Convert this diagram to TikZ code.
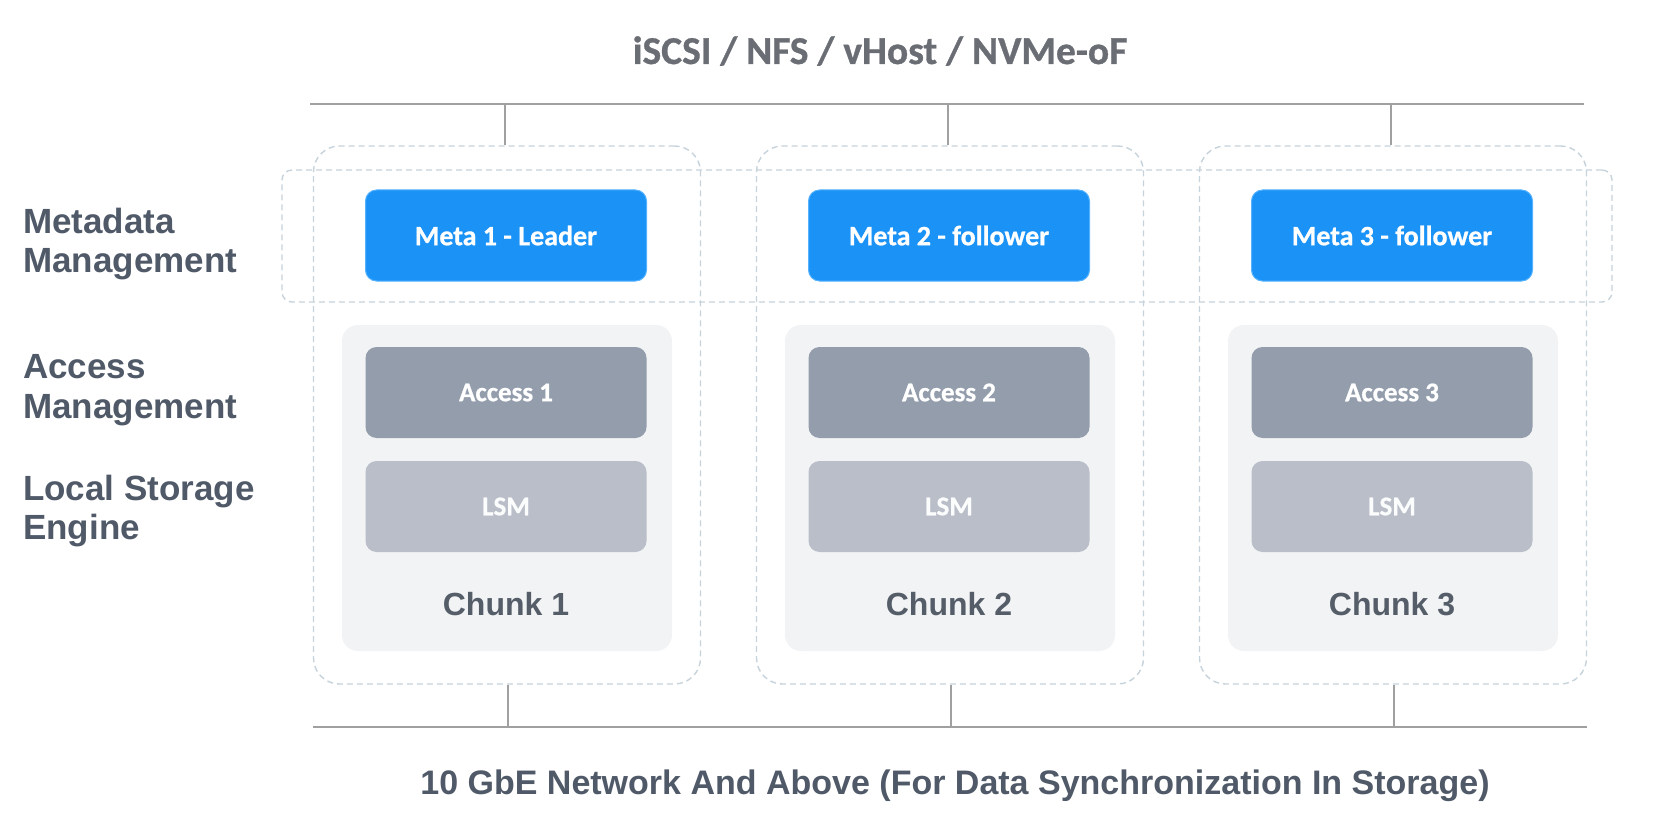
\documentclass[tikz,border=0pt]{standalone}
\usepackage{fontspec}
\setmainfont{Liberation Sans}
\newfontfamily\calfont{Carlito}[BoldFeatures={FakeBold=0.8}]
\definecolor{metablue}{HTML}{1A92F6}
\definecolor{metaedge}{HTML}{55B2FF}
\definecolor{accgray}{HTML}{939DAC}
\definecolor{lsmgray}{HTML}{B9BEC8}
\definecolor{chunkbg}{HTML}{F2F3F5}
\definecolor{dashcol}{HTML}{C6D3DB}
\definecolor{buscol}{HTML}{A0A0A0}
\definecolor{labcol}{HTML}{4F5968}
\definecolor{titlecol}{HTML}{6A6E74}
\definecolor{chunktext}{HTML}{555D68}
\tikzset{
  colbox/.style={draw=dashcol, line width=1.4pt, dash pattern=on 6pt off 4pt, rounded corners=26pt,
    minimum width=387pt, minimum height=538pt, inner sep=0pt},
  band/.style={draw=dashcol, line width=1.4pt, dash pattern=on 6pt off 4pt, rounded corners=10pt,
    minimum width=1330pt, minimum height=132pt, inner sep=0pt},
  metabox/.style={fill=metablue, draw=metaedge, line width=1pt, rounded corners=11pt,
    minimum width=281pt, minimum height=91pt, inner sep=0pt, text=white,
    font=\calfont\bfseries\fontsize{28}{32}\selectfont},
  accbox/.style={fill=accgray, rounded corners=11pt, minimum width=281pt, minimum height=91pt,
    inner sep=0pt, text=white, font=\calfont\bfseries\fontsize{27}{31}\selectfont},
  lsmbox/.style={fill=lsmgray, rounded corners=11pt, minimum width=281pt, minimum height=91pt,
    inner sep=0pt, text=white!95!lsmgray, font=\calfont\bfseries\fontsize{27}{31}\selectfont},
  chunkbox/.style={fill=chunkbg, rounded corners=16pt, minimum width=330pt, minimum height=326pt, inner sep=0pt},
  chunklab/.style={text=chunktext, inner sep=0pt, anchor=base, font=\bfseries\fontsize{32}{36}\selectfont},
  sidelab/.style={text=labcol, inner sep=0pt, anchor=west, align=left, font=\bfseries\fontsize{35}{39.5}\selectfont},
  busline/.style={draw=buscol, line width=1.8pt},
}
\begin{document}
\begin{tikzpicture}[x=1pt, y=-1pt]
\useasboundingbox (0,0) rectangle (1671,821);

% title and bottom caption
\node[text=titlecol, inner sep=0pt, anchor=base, font=\calfont\bfseries\fontsize{39.5}{43}\selectfont] (title) at (880,64) {iSCSI / NFS / vHost / NVMe-oF};
\node[text=labcol, inner sep=0pt, anchor=base, font=\bfseries\fontsize{34}{38}\selectfont] (net) at (955,794) {10 GbE Network And Above (For Data Synchronization In Storage)};

% side labels
\node[sidelab] (lmeta) at (23,244) {Metadata\\Management};
\node[sidelab] (lacc) at (23,390) {Access\\Management};
\node[sidelab] (lloc) at (23,511) {Local Storage\\Engine};

% column boxes
\node[colbox] (col1) at (507,415) {};
\node[colbox] (col2) at (950,415) {};
\node[colbox] (col3) at (1393,415) {};

% metadata band
\node[band] (mband) at (947,236) {};

% chunk boxes
\foreach \i/\x in {1/507,2/950,3/1393}{
  \node[chunkbox] (chunk\i) at (\x,488) {};
}
\node[metabox] (meta1) at (506,235.5) {Meta 1 - Leader};
\node[metabox] (meta2) at (949,235.5) {Meta 2 - follower};
\node[metabox] (meta3) at (1392,235.5) {Meta 3 - follower};
\foreach \i/\x in {1/506,2/949,3/1392}{
  \node[accbox] (acc\i) at (\x,392.5) {Access \i};
  \node[lsmbox] (lsm\i) at (\x,506.5) {LSM};
  \node[chunklab] (clab\i) at (\x,615) {Chunk \i};
}

% buses
\coordinate (tbL) at (310,104);
\coordinate (tbR) at (1584,104);
\coordinate (bbL) at (313,727);
\coordinate (bbR) at (1587,727);
\draw[busline] (tbL) -- (tbR);
\draw[busline] (bbL) -- (bbR);
\foreach \i/\x in {1/505,2/948,3/1391}{
  \coordinate (tj\i) at (\x,104);
  \draw[busline] (tj\i) -- (tj\i |- col\i.north);
}
\foreach \i/\x in {1/508,2/951,3/1394}{
  \coordinate (bj\i) at (\x,727);
  \draw[busline] (bj\i) -- (bj\i |- col\i.south);
}
\end{tikzpicture}
\end{document}
